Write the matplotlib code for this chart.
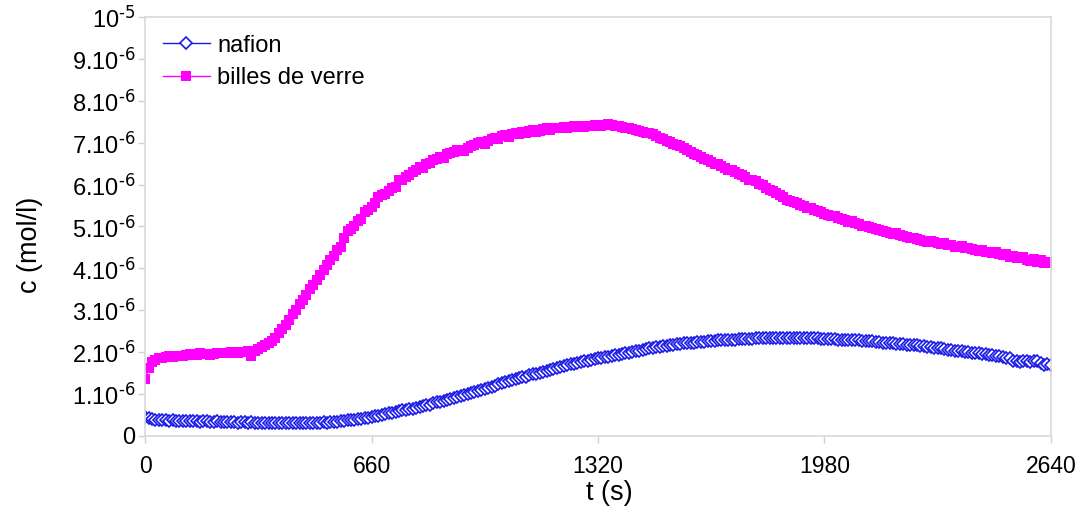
import numpy as np
import matplotlib
matplotlib.use("Agg")
import matplotlib.pyplot as plt

plt.rcParams['font.family'] = ['Liberation Sans', 'DejaVu Sans']
plt.rcParams['mathtext.default'] = 'regular'

# temps (s), un point toutes les 10 s
t = np.arange(0, 2641, 10)

# concentrations en 1e-6 mol/l
billes = [
    1.35, 1.62, 1.77, 1.82, 1.86, 1.85, 1.88, 1.90, 1.89, 1.91,
    1.92, 1.90, 1.93, 1.95, 1.93, 1.94, 1.97, 1.95, 1.96, 1.94,
    1.96, 1.98, 1.97, 1.99, 1.98, 2.00, 1.98, 1.99, 2.01, 2.00,
    2.02, 1.92, 2.04, 2.08, 2.12, 2.17, 2.21, 2.27, 2.34, 2.45,
    2.55, 2.65, 2.78, 2.90, 3.00, 3.14, 3.25, 3.37, 3.50, 3.60,
    3.72, 3.84, 3.97, 4.08, 4.19, 4.30, 4.44, 4.52, 4.72, 4.90,
    4.95, 5.02, 5.12, 5.18, 5.35, 5.40, 5.47, 5.55, 5.70, 5.75,
    5.78, 5.85, 5.92, 5.95, 6.10, 6.12, 6.18, 6.24, 6.30, 6.35,
    6.42, 6.40, 6.48, 6.52, 6.58, 6.62, 6.66, 6.64, 6.72, 6.75,
    6.78, 6.82, 6.83, 6.80, 6.88, 6.92, 6.95, 6.99, 7.02, 6.98,
    7.05, 7.10, 7.12, 7.08, 7.15, 7.18, 7.14, 7.20, 7.22, 7.21,
    7.25, 7.22, 7.28, 7.30, 7.26, 7.28, 7.32, 7.34, 7.30, 7.35,
    7.36, 7.34, 7.38, 7.36, 7.37, 7.39, 7.38, 7.40, 7.38, 7.41,
    7.40, 7.42, 7.41, 7.40, 7.43, 7.45, 7.42, 7.40, 7.41, 7.38,
    7.36, 7.35, 7.32, 7.30, 7.28, 7.26, 7.24, 7.23, 7.20, 7.15,
    7.12, 7.10, 7.05, 7.02, 6.98, 6.95, 6.92, 6.88, 6.82, 6.78,
    6.74, 6.70, 6.66, 6.62, 6.58, 6.54, 6.50, 6.48, 6.44, 6.40,
    6.36, 6.35, 6.30, 6.26, 6.22, 6.18, 6.12, 6.10, 6.08, 6.02,
    5.98, 5.92, 5.88, 5.85, 5.80, 5.75, 5.70, 5.64, 5.62, 5.58,
    5.55, 5.52, 5.48, 5.45, 5.44, 5.40, 5.38, 5.34, 5.30, 5.28,
    5.26, 5.24, 5.20, 5.18, 5.15, 5.10, 5.12, 5.08, 5.05, 5.02,
    5.00, 4.98, 4.96, 4.94, 4.92, 4.90, 4.88, 4.84, 4.82, 4.84,
    4.80, 4.78, 4.76, 4.73, 4.72, 4.70, 4.68, 4.66, 4.64, 4.65,
    4.62, 4.60, 4.58, 4.60, 4.57, 4.55, 4.52, 4.50, 4.54, 4.48,
    4.49, 4.46, 4.44, 4.42, 4.45, 4.40, 4.38, 4.36, 4.40, 4.34,
    4.32, 4.35, 4.28, 4.30, 4.25, 4.24, 4.27, 4.20, 4.18, 4.22,
    4.16, 4.19, 4.14, 4.15, 4.13,
]

nafion = [
    0.45, 0.42, 0.40, 0.39, 0.38, 0.37, 0.38, 0.36, 0.37, 0.36,
    0.36, 0.35, 0.36, 0.35, 0.35, 0.36, 0.34, 0.35, 0.35, 0.34,
    0.34, 0.35, 0.33, 0.34, 0.33, 0.33, 0.34, 0.32, 0.33, 0.33,
    0.32, 0.33, 0.32, 0.32, 0.31, 0.32, 0.31, 0.32, 0.31, 0.31,
    0.32, 0.31, 0.31, 0.30, 0.31, 0.31, 0.32, 0.31, 0.32, 0.31,
    0.32, 0.32, 0.33, 0.32, 0.33, 0.34, 0.34, 0.35, 0.36, 0.37,
    0.38, 0.39, 0.40, 0.41, 0.42, 0.44, 0.45, 0.47, 0.48, 0.50,
    0.52, 0.54, 0.56, 0.57, 0.59, 0.61, 0.62, 0.64, 0.65, 0.67,
    0.69, 0.71, 0.73, 0.75, 0.78, 0.80, 0.82, 0.84, 0.86, 0.88,
    0.90, 0.93, 0.95, 0.98, 1.00, 1.03, 1.05, 1.08, 1.10, 1.13,
    1.15, 1.18, 1.20, 1.23, 1.26, 1.28, 1.31, 1.33, 1.36, 1.38,
    1.40, 1.42, 1.45, 1.47, 1.49, 1.51, 1.53, 1.55, 1.57, 1.59,
    1.62, 1.64, 1.67, 1.69, 1.71, 1.73, 1.75, 1.77, 1.78, 1.80,
    1.81, 1.83, 1.85, 1.86, 1.88, 1.89, 1.91, 1.93, 1.94, 1.96,
    1.98, 1.99, 2.01, 2.03, 2.04, 2.06, 2.08, 2.09, 2.11, 2.12,
    2.13, 2.14, 2.15, 2.17, 2.18, 2.19, 2.20, 2.21, 2.21, 2.22,
    2.23, 2.24, 2.24, 2.25, 2.26, 2.27, 2.27, 2.28, 2.28, 2.29,
    2.29, 2.30, 2.30, 2.31, 2.31, 2.31, 2.32, 2.32, 2.33, 2.33,
    2.33, 2.34, 2.34, 2.34, 2.35, 2.34, 2.35, 2.34, 2.34, 2.35,
    2.34, 2.34, 2.34, 2.33, 2.34, 2.33, 2.33, 2.32, 2.32, 2.32,
    2.31, 2.31, 2.30, 2.30, 2.30, 2.29, 2.29, 2.28, 2.28, 2.27,
    2.27, 2.26, 2.26, 2.25, 2.24, 2.23, 2.22, 2.22, 2.21, 2.20,
    2.20, 2.19, 2.18, 2.17, 2.16, 2.16, 2.15, 2.14, 2.13, 2.12,
    2.11, 2.10, 2.09, 2.07, 2.06, 2.05, 2.04, 2.03, 2.02, 2.01,
    2.00, 1.99, 1.98, 1.97, 1.96, 1.95, 1.94, 1.93, 1.92, 1.90,
    1.88, 1.86, 1.85, 1.80, 1.78, 1.76, 1.80, 1.79, 1.76, 1.80,
    1.78, 1.74, 1.70, 1.73, 1.70,
]

xticks = [0, 660, 1320, 1980, 2640]
yticks = [0, 1e-6, 2e-6, 3e-6, 4e-6, 5e-6, 6e-6, 7e-6, 8e-6, 9e-6, 1e-5]
ylabels = ['0'] + [r'$%d.10^{\text{-6}}$' % i for i in range(1, 10)] + [r'$10^{\text{-5}}$']

fig = plt.figure(figsize=(10.75, 5.15), dpi=100)
ax = fig.add_axes([0.135, 0.1534, 0.8425, 0.8136])

ax.plot(t, np.array(nafion) * 1e-6, color='#1a1ae6', marker='D', markersize=5.8,
        markerfacecolor='white', markeredgewidth=1.2, linewidth=1.0, label='nafion')
ax.plot(t, np.array(billes) * 1e-6, color='#ff00ff', marker='s', markersize=7.5,
        markeredgewidth=0, linewidth=1.0, label='billes de verre')

ax.set_xlim(0, 2640)
ax.set_ylim(0, 1e-5)
ax.set_xticks(xticks)
ax.set_xticklabels([str(v) for v in xticks], fontsize=16.5)
ax.set_yticks(yticks)
ax.set_yticklabels(ylabels, fontsize=17)
ax.tick_params(axis='both', colors='#d0d0d0', length=5, width=1, labelcolor='black')
ax.tick_params(axis='x', pad=9)
ax.tick_params(axis='y', pad=2)
for s in ax.spines.values():
    s.set_color('#d9d9d9')
    s.set_linewidth(1.2)

ax.set_xlabel('t (s)', fontsize=19.5, va='center')
ax.set_ylabel('c (mol/l)', fontsize=19.5, va='center')
ax.xaxis.set_label_coords(0.512, -0.136)
ax.yaxis.set_label_coords(-0.127, 0.456)

ax.legend(loc='upper left', frameon=False, fontsize=17, handlelength=2.0,
          handletextpad=0.3, labelspacing=0.45, borderaxespad=0.35,
          bbox_to_anchor=(0.0, 1.0))

fig.savefig('out.png', dpi=100)
